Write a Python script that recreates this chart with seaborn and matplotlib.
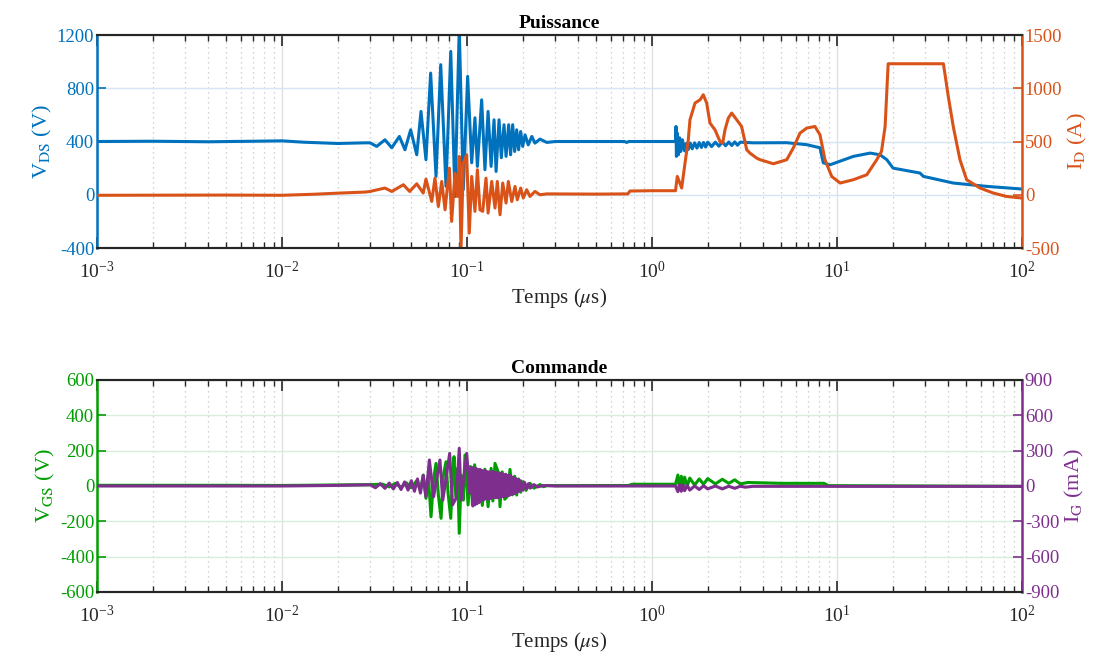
import numpy as np
import pandas as pd
import matplotlib
matplotlib.use("Agg")
import matplotlib.pyplot as plt
from matplotlib.ticker import LogLocator, NullFormatter, FixedLocator
import seaborn as sns

# --- Puissance: V_DS (V) ---
t_vds = [0.001, 0.002, 0.004, 0.007, 0.010, 0.013, 0.020, 0.028, 0.0299, 0.0325, 0.0360, 0.0392,
         0.0431, 0.0462, 0.0496, 0.0535, 0.0564, 0.0600, 0.0636, 0.0680, 0.0721, 0.0770, 0.0817,
         0.0861, 0.0908, 0.0955, 0.1008, 0.1060, 0.1104, 0.1138, 0.1200, 0.1250, 0.1300, 0.1350,
         0.1400, 0.1436, 0.1490, 0.1533, 0.1585, 0.1626, 0.1680, 0.1720, 0.1766, 0.1810, 0.1856,
         0.1900, 0.1950, 0.2000, 0.2060, 0.2143, 0.2240, 0.2330, 0.2480, 0.2700, 0.30, 0.50, 0.71,
         0.73, 0.75, 1.0, 1.34, 1.348, 1.355, 1.37, 1.39, 1.41, 1.43, 1.46, 1.50, 1.53, 1.57, 1.61,
         1.65, 1.70, 1.75, 1.80, 1.85, 1.90, 1.95, 2.0, 2.1, 2.2, 2.3, 2.4, 2.5, 2.6, 2.7, 2.8,
         2.9, 3.0, 3.53, 5.35, 6.86, 8.09, 8.43, 9.17, 12.25, 15.1,
         17.1, 18.6, 20.1, 28.1, 29.3, 42.5, 64.4, 100.0]
vds = [400, 402, 398, 402, 405, 395, 385, 390, 390, 363, 413, 353,
       438, 338, 488, 300, 626, 263, 914, 138, 977, 63, 1077,
       -13, 1250, 38, 889, 240, 578, 213, 713, 188, 626, 213,
       563, 175, 563, 278, 526, 288, 526, 300, 526, 325, 488,
       338, 475, 363, 450, 375, 438, 388, 418, 393, 400, 400, 400,
       393, 400, 400, 400, 513, 288, 463, 300, 428, 325, 413, 330, 385, 340, 388,
       345, 390, 350, 392, 355, 393, 358, 395, 362, 395, 365, 396, 368, 396, 370, 397,
       372, 395, 390, 391, 376, 353, 240, 225, 288, 313,
       300, 263, 200, 163, 138, 88, 63, 43]

# --- Puissance: I_D (A) ---
t_id = [0.001, 0.005, 0.010, 0.015, 0.020, 0.028, 0.0299, 0.0360, 0.0392, 0.0453, 0.0490, 0.0535,
        0.0580, 0.0600, 0.0645, 0.0671, 0.0700, 0.0730, 0.0761, 0.0803, 0.0826, 0.0861, 0.0886,
        0.0908, 0.0928, 0.0955, 0.0996, 0.1029, 0.1060, 0.1104, 0.1138, 0.1175, 0.1216, 0.1267,
        0.1300, 0.1360, 0.1417, 0.1458, 0.1508, 0.1560, 0.1626, 0.1673, 0.1745, 0.1818, 0.1870,
        0.1950, 0.2015, 0.2102, 0.2190, 0.2330, 0.2480, 0.27, 0.50, 0.74, 0.76, 1.0, 1.34, 1.37,
        1.447, 1.508, 1.571, 1.604, 1.708, 1.82, 1.893, 1.975, 2.058, 2.19, 2.331, 2.41, 2.481,
        2.585, 2.697, 2.87, 3.05, 3.18, 3.25, 3.386, 3.68, 3.84, 4.53, 5.35, 5.8, 6.31, 6.86,
        7.6, 8.09, 8.61, 9.36, 10.4, 12.25, 14.5, 16.4, 17.4, 18.2, 18.9, 37.6, 39.96, 42.5,
        46.2, 50.2, 59.3, 70.0, 82.6, 100.0]
i_d = [-5, -3, -5, 5, 15, 25, 31, 63, 31, 94, 31, 103,
       16, 147, -63, 156, -110, 125, -141, 250, -250, 203, -16,
       360, -520, 297, 375, -360, 172, -156, 235, -141, -156, 156,
       -172, 125, -125, 125, -188, 110, -78, 125, -63, 78, -47,
       63, -31, 47, -16, 31, 0, 8, 6, 8, 35, 38, 38, 172,
       63, 297, 516, 704, 861, 892, 939, 861, 673, 610, 500, 485, 610,
       720, 767, 704, 641, 500, 423, 391, 344, 329, 291, 329, 438, 579, 626,
       641, 563, 329, 172, 110, 141, 188, 329, 407, 641, 1230, 1230, 923, 641,
       329, 141, 63, 16, -16, -31]

# --- Commande: V_GS (V) ---
t_vgs = [0.001, 0.005, 0.010, 0.020, 0.030, 0.035, 0.038, 0.041, 0.044, 0.047, 0.050, 0.0535,
         0.056, 0.058, 0.060, 0.0618, 0.0639, 0.066, 0.068, 0.070, 0.0724, 0.0745, 0.077, 0.079,
         0.0817, 0.0835, 0.0851, 0.087, 0.089, 0.0908, 0.093, 0.0955, 0.0975, 0.1014, 0.104,
         0.107, 0.110, 0.113, 0.117, 0.121, 0.125, 0.130, 0.135, 0.138, 0.1417, 0.1485, 0.1508,
         0.155, 0.160, 0.165, 0.1708, 0.176, 0.181, 0.1856, 0.190, 0.195, 0.2015, 0.208, 0.219,
         0.230, 0.248, 0.260, 0.270, 0.30, 0.75, 0.78, 1.34, 1.38, 1.41, 1.44, 1.47, 1.50, 1.55,
         1.60, 1.70, 1.80, 1.90, 2.0, 2.2, 2.4, 2.6, 2.8, 3.0, 3.3, 5.0, 8.5, 9.0, 100.0]
vgs = [4, 4, 3, 6, 8, 10, -5, 15, -8, 18, -10, 30,
       -25, 62, -70, 60, -174, 40, 128, -50, -183, 60, 137, -40,
       -183, 50, 166, -60, 100, -268, 60, -80, 175, -107, 110,
       -100, 120, -95, 85, -110, 95, -117, 100, -85, 128, 70, -117,
       80, -75, -60, 94, -50, 55, -51, 40, -35, 25, -25, 15,
       -12, 8, -4, 3, 2, 3, 10, 10, 62, -20, 55, -10, 50, 0,
       45, 5, 40, 10, 42, 12, 38, 15, 35, 12, 20, 15, 15, 2, -2]

# --- Commande: I_G (mA) ---
t_ig = [0.001, 0.010, 0.020, 0.030, 0.032, 0.034, 0.036, 0.038, 0.040, 0.042, 0.044, 0.046,
        0.048, 0.050, 0.052, 0.054, 0.056, 0.058, 0.060, 0.0626, 0.066, 0.0714, 0.074, 0.0806,
        0.0835, 0.0875, 0.0908, 0.093, 0.0996, 0.1036, 0.106, 0.1075, 0.109, 0.1105, 0.112,
        0.1135, 0.115, 0.1165, 0.118, 0.1195, 0.121, 0.1225, 0.124, 0.1255, 0.127, 0.1285,
        0.130, 0.1315, 0.133, 0.135, 0.137, 0.139, 0.141, 0.143, 0.145, 0.147, 0.149, 0.151,
        0.153, 0.155, 0.157, 0.1595, 0.162, 0.1645, 0.167, 0.1695, 0.172, 0.1745, 0.177, 0.180,
        0.183, 0.186, 0.189, 0.192, 0.195, 0.2, 0.205, 0.21, 0.215, 0.22, 0.23, 0.24, 0.26,
        0.30, 0.75, 1.34, 1.38, 1.41, 1.44, 1.47, 1.50, 1.55, 1.60, 1.70, 1.80, 1.90, 2.0,
        2.2, 2.4, 2.6, 2.8, 3.0, 3.2, 3.5, 10.0, 100.0]
i_g = [0, 0, 5, 10, -15, 20, -20, 25, -25, 30, -30, 35,
       -35, 45, -45, 60, -60, 90, -90, 221, -91, 221, -119, 277,
       -161, -100, 320, -119, 277, -62, 160, -170, 150, -160, 150,
       -150, 140, -140, 140, -120, 130, -120, 130, -110, 125, -110,
       120, -110, 120, -105, 125, -100, 115, -100, 115, -100, 110, -95,
       110, -90, 100, -90, 100, -85, 90, -80, 90, -70, 75, -65,
       65, -55, 55, -45, 45, -35, 30, -25, 20, -18, 12, -8, 4,
       0, 0, 0, -48, 10, -45, 8, -40, 5, -35, 0, -30, 2, -25,
       0, -25, -2, -20, -2, -10, -3, -3, -3]

xticks = [1e-3, 1e-2, 1e-1, 1e0, 1e1, 1e2]

BLUE = "#0072BD"
ORANGE = "#D95319"
GREEN = "#009E00"
PURPLE = "#7E2F8E"
DARK = "#262626"

sns.set_theme(style="white")
plt.rcParams["font.family"] = ["Liberation Serif", "DejaVu Serif"]
plt.rcParams["mathtext.fontset"] = "stix"
plt.rcParams["axes.unicode_minus"] = False

fig = plt.figure(figsize=(10.98, 6.55), dpi=100)
ax_top = fig.add_axes([97 / 1098, 1 - 248 / 655, 925 / 1098, 213 / 655])
ax_bot = fig.add_axes([97 / 1098, 1 - 592 / 655, 925 / 1098, 212 / 655])


def style_pair(ax, ax2, lcol, rcol, gridcol, ylim_l, yt_l, ylim_r, yt_r, title, llab, rlab):
    ax.set_xscale("log")
    ax.set_xlim(1e-3, 1e2)
    ax.set_ylim(*ylim_l)
    ax2.set_ylim(*ylim_r)
    ax.xaxis.set_major_locator(FixedLocator(xticks))
    ax.xaxis.set_minor_locator(LogLocator(base=10, subs=np.arange(2, 10), numticks=20))
    ax.xaxis.set_minor_formatter(NullFormatter())
    ax.set_yticks(yt_l)
    ax.set_yticklabels([str(v) for v in yt_l])
    ax2.set_yticks(yt_r)
    ax2.set_yticklabels([str(v) for v in yt_r])

    ax.set_axisbelow(True)
    ax.grid(which="major", axis="x", color="#dedede", lw=0.9, ls="-")
    ax.grid(which="minor", axis="x", color="#c4c4c4", lw=0.9, ls=(0, (1, 3)))
    ax.grid(which="major", axis="y", color=gridcol, lw=1.0, ls="-")
    ax2.grid(False)

    ax.tick_params(axis="x", which="major", direction="in", length=8, width=1.2,
                   top=True, bottom=True, colors=DARK, labelsize=14, pad=9)
    ax.tick_params(axis="x", which="minor", direction="in", length=4.5, width=1.0,
                   top=True, bottom=True, colors=DARK)
    ax.tick_params(axis="y", which="major", direction="in", length=6.5, width=1.2,
                   left=True, right=False, colors=lcol, labelsize=13.5, pad=2)
    ax2.tick_params(axis="y", which="major", direction="in", length=6.5, width=1.2,
                    left=False, right=True, colors=rcol, labelsize=13.5, pad=2)

    for a in (ax, ax2):
        a.spines["top"].set_color(DARK)
        a.spines["bottom"].set_color(DARK)
        a.spines["top"].set_linewidth(1.5)
        a.spines["bottom"].set_linewidth(1.5)
    ax.spines["left"].set_color(lcol)
    ax.spines["left"].set_linewidth(1.8)
    ax.spines["right"].set_visible(False)
    ax2.spines["right"].set_color(rcol)
    ax2.spines["right"].set_linewidth(1.8)
    ax2.spines["left"].set_visible(False)

    ax.set_title(title, fontsize=14, fontweight="bold", color="black", pad=5)
    ax.set_xlabel(r"Temps ($\mu$s)", fontsize=15, color=DARK, labelpad=3)
    ax.set_ylabel(llab, fontsize=16, color=lcol, labelpad=2)
    ax2.set_ylabel(rlab, fontsize=16, color=rcol, labelpad=3)


# top panel
ax_top2 = ax_top.twinx()
sns.lineplot(x=t_vds, y=vds, ax=ax_top, color=BLUE, lw=2.2, estimator=None, sort=False)
sns.lineplot(x=t_id, y=i_d, ax=ax_top2, color=ORANGE, lw=2.2, estimator=None, sort=False)
style_pair(ax_top, ax_top2, BLUE, ORANGE, "#d5e5f3",
           (-400, 1200), [-400, 0, 400, 800, 1200],
           (-500, 1500), [-500, 0, 500, 1000, 1500],
           "Puissance", r"V$_{\mathrm{DS}}$ (V)", r"I$_{\mathrm{D}}$ (A)")

# bottom panel
ax_bot2 = ax_bot.twinx()
sns.lineplot(x=t_vgs, y=vgs, ax=ax_bot, color=GREEN, lw=2.2, estimator=None, sort=False)
sns.lineplot(x=t_ig, y=i_g, ax=ax_bot2, color=PURPLE, lw=2.2, estimator=None, sort=False)
style_pair(ax_bot, ax_bot2, GREEN, PURPLE, "#d8eed8",
           (-600, 600), [-600, -400, -200, 0, 200, 400, 600],
           (-900, 900), [-900, -600, -300, 0, 300, 600, 900],
           "Commande", r"V$_{\mathrm{GS}}$ (V)", r"I$_{\mathrm{G}}$ (mA)")

for a in (ax_top, ax_top2, ax_bot, ax_bot2):
    a.set_xscale("log")
    a.set_xlim(1e-3, 1e2)

fig.savefig("out.png", dpi=100)
